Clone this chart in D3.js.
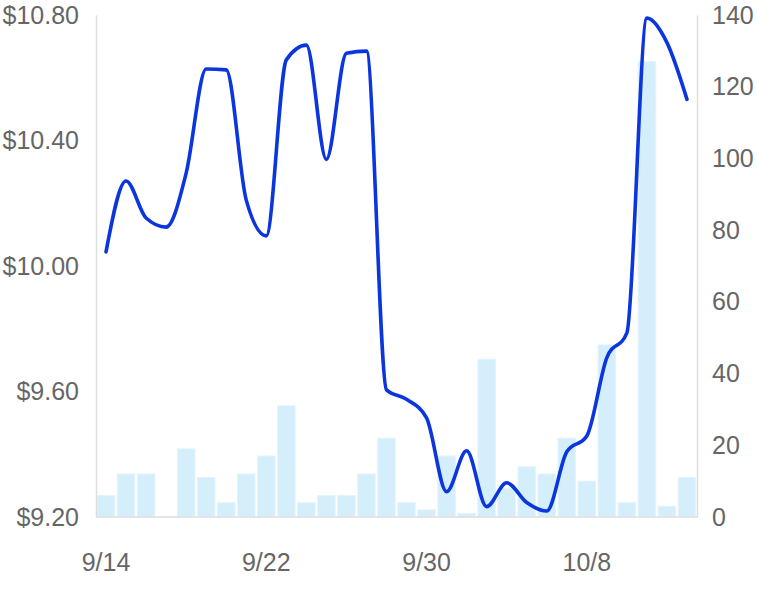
<!DOCTYPE html>
<html>
<head>
<meta charset="utf-8">
<script src="https://cdn.jsdelivr.net/npm/d3@7"></script>
<style>
  html, body { margin: 0; padding: 0; background: #fff; }
  #chart { width: 757px; height: 596px; }
  text { font-family: "Liberation Sans", Arial, Helvetica, sans-serif; }
</style>
</head>
<body>
<div id="chart"></div>
<script>
const days = [
  "9/14", "9/15", "9/16", "9/17", "9/18", "9/19", "9/20", "9/21", "9/22", "9/23",
  "9/24", "9/25", "9/26", "9/27", "9/28", "9/29", "9/30", "10/1", "10/2", "10/3",
  "10/4", "10/5", "10/6", "10/7", "10/8", "10/9", "10/10", "10/11", "10/12", "10/13",
];
const price = [
  10.045, 10.271, 10.153, 10.124, 10.296, 10.628, 10.625, 10.21, 10.096, 10.657,
  10.704, 10.34, 10.678, 10.685, 9.605, 9.575, 9.516, 9.281, 9.411, 9.233,
  9.309, 9.246, 9.219, 9.408, 9.458, 9.708, 9.787, 10.79, 10.712, 10.531,
];
const volume = [
  6, 12, 12, 0, 19, 11, 4, 12, 17, 31,
  4, 6, 6, 12, 22, 4, 2, 17, 1, 44,
  8, 14, 12, 22, 10, 48, 4, 127, 3, 11,
];
const dayTicks = ["9/14", "9/22", "9/30", "10/8"];
const priceTicks = [9.2, 9.6, 10.0, 10.4, 10.8];
const volumeTicks = [0, 20, 40, 60, 80, 100, 120, 140];

const theme = {
  line: "#0b36de",
  bar: "#d5eefc",
  barEdge: "#e4f4fe",
  axis: "#dedede",
  text: "#666",
};

const width = 757;
const height = 596;
const margin = { left: 96, right: 60, top: 15, bottom: 79 };

const svg = d3
  .select("#chart")
  .append("svg")
  .attr("width", width)
  .attr("height", height);

const xScale = d3
  .scaleBand()
  .domain(days)
  .range([margin.left, width - margin.right])
  .paddingInner(0.12)
  .paddingOuter(0.06);

const yPrice = d3
  .scaleLinear()
  .domain([9.2, 10.8])
  .range([height - margin.bottom, margin.top]);

const yVolume = d3
  .scaleLinear()
  .domain([0, 140])
  .range([height - margin.bottom, margin.top]);

// volume bars behind everything
svg
  .append("g")
  .selectAll("rect")
  .data(volume)
  .join("rect")
  .attr("x", (d, i) => xScale(days[i]))
  .attr("y", (d) => yVolume(d))
  .attr("width", xScale.bandwidth())
  .attr("height", (d) => yVolume(0) - yVolume(d))
  .attr("fill", theme.bar)
  .attr("stroke", theme.barEdge)
  .attr("stroke-width", 1);

// left axis
const leftAxis = svg
  .append("g")
  .attr("transform", `translate(${margin.left}, 0)`)
  .call(
    d3.axisLeft(yPrice).tickValues(priceTicks).tickSize(0).tickPadding(17)
      .tickFormat((d) => "$" + d3.format(".2f")(d))
  );

// right axis
const rightAxis = svg
  .append("g")
  .attr("transform", `translate(${width - margin.right}, 0)`)
  .call(d3.axisRight(yVolume).tickValues(volumeTicks).tickSize(0).tickPadding(15));

// bottom axis (labels only every 8 days)
const bottomAxis = svg
  .append("g")
  .attr("transform", `translate(0, ${height - margin.bottom})`)
  .call(d3.axisBottom(xScale).tickValues(dayTicks).tickSize(0).tickPadding(36));

[leftAxis, rightAxis, bottomAxis].forEach((g) => {
  g.select(".domain").attr("stroke", theme.axis).attr("stroke-width", 1.5);
  g.selectAll("text")
    .attr("fill", theme.text)
    .style("font-size", "25px");
});
bottomAxis
  .select(".domain")
  .attr("d", `M${margin.left},0H${width - margin.right}`);

const line = d3
  .line()
  .x((d, i) => xScale(days[i]) + xScale.bandwidth() / 2)
  .y((d) => yPrice(d))
  .curve(d3.curveMonotoneX);

svg
  .append("path")
  .attr("fill", "none")
  .attr("stroke", theme.line)
  .attr("stroke-width", 3.6)
  .attr("stroke-linecap", "round")
  .attr("stroke-linejoin", "round")
  .attr("d", line(price));
</script>
</body>
</html>
